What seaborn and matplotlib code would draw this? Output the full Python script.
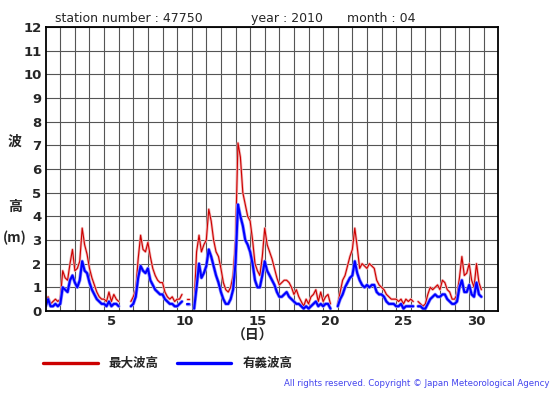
import numpy as np
import pandas as pd
import matplotlib
matplotlib.use('Agg')
import matplotlib.pyplot as plt
import seaborn as sns

# 4-hourly readings, 6 per day, April 1 00:00 .. April 30 20:00
nan = np.nan
max_wave = [
    0.4, 0.6, 0.3, 0.4, 0.5, 0.4,
    0.5, 1.7, 1.4, 1.3, 2.0, 2.6,
    1.7, 1.8, 2.1, 3.5, 2.8, 2.4,
    1.8, 1.4, 1.1, 0.8, 0.6, 0.5,
    0.5, 0.4, 0.8, 0.4, 0.7, 0.5,
    0.4, nan, nan, 0.4, nan, 0.4,
    0.6, 0.9, 2.2, 3.2, 2.6, 2.5,
    2.9, 2.3, 1.8, 1.5, 1.3, 1.2,
    1.2, 0.8, 0.6, 0.5, 0.6, 0.4,
    0.5, 0.5, 0.7, nan, 0.5, 0.5,
    nan, 0.3, 2.5, 3.2, 2.5, 2.8,
    3.0, 4.3, 3.8, 3.0, 2.5, 2.3,
    1.8, 1.2, 0.9, 0.8, 1.0, 1.5,
    3.0, 7.1, 6.5, 5.0, 4.5, 4.0,
    3.8, 3.0, 2.0, 1.7, 1.5, 2.3,
    3.5, 2.8, 2.5, 2.2, 1.8, 1.4,
    1.1, 1.2, 1.3, 1.3, 1.2, 1.0,
    0.7, 0.9, 0.6, 0.4, 0.2, 0.5,
    0.3, 0.6, 0.7, 0.9, 0.4, 0.8,
    0.4, 0.6, 0.7, 0.3, nan, nan,
    0.3, 0.8, 1.3, 1.5, 1.9, 2.3,
    2.6, 3.5, 2.7, 1.8, 2.0, 1.9,
    1.8, 2.0, 1.9, 1.8, 1.3, 1.1,
    1.0, 0.9, 0.7, 0.6, 0.5, 0.5,
    0.5, 0.4, 0.5, 0.3, 0.5, 0.4,
    0.5, 0.4, nan, 0.4, 0.3, 0.2,
    0.3, 0.7, 1.0, 0.9, 1.0, 1.1,
    0.9, 1.3, 1.2, 0.9, 0.8, 0.5,
    0.5, 0.7, 1.4, 2.3, 1.5, 1.6,
    2.0, 1.3, 1.0, 2.0, 1.2, 0.9,
]
sig_wave = [
    0.2, 0.5, 0.2, 0.2, 0.3, 0.2,
    0.3, 1.0, 0.9, 0.8, 1.3, 1.5,
    1.2, 1.0, 1.3, 2.1, 1.7, 1.6,
    1.2, 0.9, 0.7, 0.5, 0.4, 0.3,
    0.3, 0.2, 0.4, 0.2, 0.3, 0.3,
    0.2, nan, nan, 0.3, nan, 0.2,
    0.3, 0.6, 1.4, 1.9, 1.7, 1.6,
    1.8, 1.3, 1.1, 0.9, 0.8, 0.7,
    0.7, 0.5, 0.4, 0.3, 0.3, 0.2,
    0.2, 0.3, 0.4, nan, 0.3, 0.3,
    nan, 0.1, 1.0, 2.0, 1.4, 1.6,
    1.9, 2.6, 2.3, 1.9, 1.5, 1.2,
    0.8, 0.5, 0.3, 0.3, 0.5, 0.9,
    2.0, 4.5, 4.0, 3.6, 3.0, 2.8,
    2.5, 2.0, 1.3, 1.0, 1.0, 1.5,
    2.1, 1.7, 1.5, 1.3, 1.1, 0.8,
    0.6, 0.6, 0.7, 0.8, 0.6, 0.5,
    0.4, 0.3, 0.3, 0.2, 0.1, 0.2,
    0.1, 0.2, 0.3, 0.4, 0.2, 0.3,
    0.2, 0.3, 0.3, 0.1, nan, nan,
    0.2, 0.5, 0.7, 1.0, 1.2, 1.4,
    1.5, 2.1, 1.6, 1.3, 1.1, 1.0,
    1.1, 1.0, 1.1, 1.1, 0.8, 0.7,
    0.7, 0.6, 0.4, 0.3, 0.3, 0.3,
    0.2, 0.2, 0.3, 0.1, 0.2, 0.2,
    0.2, 0.2, nan, 0.2, 0.2, 0.1,
    0.1, 0.3, 0.5, 0.6, 0.7, 0.6,
    0.6, 0.7, 0.7, 0.5, 0.4, 0.3,
    0.3, 0.4, 1.0, 1.3, 0.8, 0.8,
    1.1, 0.7, 0.6, 1.2, 0.7, 0.6,
]
x_ticks = [5, 10, 15, 20, 25, 30]
y_ticks = list(range(0, 13))

# day d is drawn over [d-0.5, d+0.5)
day_pos = 0.5 + np.arange(len(sig_wave)) / 6.0
df = pd.DataFrame({'day': day_pos, 'max': max_wave, 'sig': sig_wave})
# segment id so missing readings leave gaps in the line
df['seg'] = df['sig'].isna().cumsum()

sns.set_style('white')
plt.rcParams['font.family'] = ['DejaVu Sans', 'Noto Sans CJK JP']
jp = ['Noto Sans CJK JP', 'DejaVu Sans']

fig = plt.figure(figsize=(5.55, 3.95), dpi=100)
ax = fig.add_axes([0.0823, 0.2127, 0.898 - 0.0823, 0.9316 - 0.2127])

kw = dict(data=df.dropna(), x='day', units='seg', estimator=None, sort=False, ax=ax)
sns.lineplot(y='max', color='#f2b4b4', lw=1.9, **kw)
sns.lineplot(y='max', color='#cc0000', lw=0.8, **kw)
sns.lineplot(y='sig', color='#9090ff', lw=2.5, **kw)
sns.lineplot(y='sig', color='#0000ff', lw=1.5, **kw)

ax.set_xlim(0.5, 31.5)
ax.set_ylim(0, 12)
ax.set_xticks(x_ticks)
ax.set_yticks(y_ticks)
ax.set_xticks(np.arange(1.5, 31.5, 1), minor=True)
ax.grid(False)
ax.grid(which='minor', axis='x', color='#555555', lw=0.8)
ax.grid(which='major', axis='y', color='#555555', lw=0.8)
ax.set_axisbelow(True)
ax.tick_params(which='both', length=0, pad=3)
for lab in ax.get_xticklabels() + ax.get_yticklabels():
    lab.set_fontweight('bold')
    lab.set_fontsize(9.5)
for s in ax.spines.values():
    s.set_color('black')
    s.set_linewidth(1.3)
ax.set_xlabel('')
ax.set_ylabel('')

fig.text(55 / 555, 1 - 22 / 395, 'station number : 47750', fontsize=9, va='baseline')
fig.text(251 / 555, 1 - 22 / 395, 'year : 2010', fontsize=9, va='baseline')
fig.text(347 / 555, 1 - 22 / 395, 'month : 04', fontsize=9, va='baseline')

fig.text(15 / 555, 1 - 142 / 395, '波', family=jp, fontsize=10, weight='bold', ha='center', va='center')
fig.text(15 / 555, 1 - 207 / 395, '高', family=jp, fontsize=10, weight='bold', ha='center', va='center')
fig.text(15 / 555, 1 - 238 / 395, '(m)', family=jp, fontsize=10, weight='bold', ha='center', va='center')
fig.text(253 / 555, 1 - 336 / 395, '（日）', family=jp, fontsize=10, weight='bold', ha='center', va='center')

# legend drawn underneath
fig.add_artist(plt.Line2D([43 / 555, 98 / 555], [1 - 363 / 395] * 2, color='#cc0000', lw=2.4))
fig.text(108 / 555, 1 - 363 / 395, '最大波高', family=jp, fontsize=9, weight='bold', va='center')
fig.add_artist(plt.Line2D([177 / 555, 231 / 555], [1 - 363 / 395] * 2, color='#0000ff', lw=2.4))
fig.text(243 / 555, 1 - 363 / 395, '有義波高', family=jp, fontsize=9, weight='bold', va='center')
fig.text(549 / 555, 1 - 384 / 395, 'All rights reserved. Copyright © Japan Meteorological Agency',
         fontsize=6.2, color='#4444ee', ha='right', va='center')

fig.savefig('out.png', dpi=100)
